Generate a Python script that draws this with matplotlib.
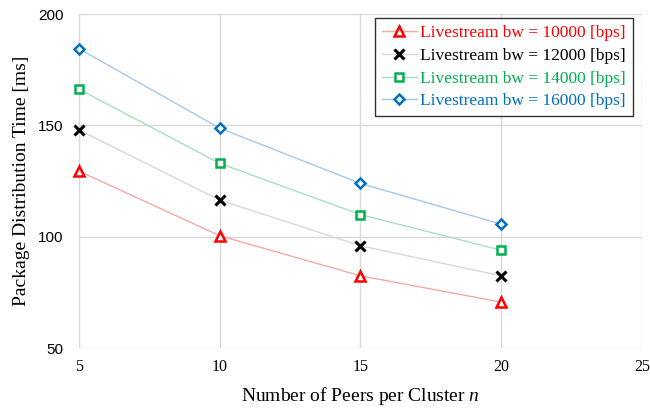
import matplotlib
matplotlib.use("Agg")
import matplotlib.pyplot as plt

plt.rcParams['font.family'] = ['Liberation Serif', 'DejaVu Serif']
plt.rcParams['mathtext.fontset'] = 'custom'
plt.rcParams['mathtext.rm'] = 'Liberation Serif'
plt.rcParams['mathtext.it'] = 'Liberation Serif:italic'

peers = [5, 10, 15, 20]
bw10000 = [129.5, 100.5, 82.5, 70.7]
bw12000 = [148, 116.5, 96, 82.5]
bw14000 = [166.3, 133, 110, 94]
bw16000 = [184.5, 148.8, 124, 105.7]
labels = ["Livestream bw = 10000 [bps]", "Livestream bw = 12000 [bps]",
          "Livestream bw = 14000 [bps]", "Livestream bw = 16000 [bps]"]

series = [bw10000, bw12000, bw14000, bw16000]
mcolors = ['#FF0000', '#000000', '#00B050', '#0070C0']
lcolors = ['#F7A8A8', '#D9D9D9', '#A9DFC0', '#A6C8E8']
markers = ['^', 'x', 's', 'D']
msizes = [6.5, 6.5, 6, 5.5]

fig = plt.figure(figsize=(6.5, 4.16), dpi=100)
ax = fig.add_axes([0.1215, 0.163, 0.866, 0.803])

handles = []
for ys, mc, lc, mk, ms, lab in zip(series, mcolors, lcolors, markers, msizes, labels):
    if mk == 'x':
        h, = ax.plot(peers, ys, color=lc, lw=1.0, marker=mk, ms=ms, mec=mc, mew=2.2,
                     label=lab, zorder=3, clip_on=False)
    else:
        h, = ax.plot(peers, ys, color=lc, lw=1.0, marker=mk, ms=ms, mfc='white', mec=mc,
                     mew=1.8, label=lab, zorder=3, clip_on=False)
    handles.append(h)

ax.set_xlim(5, 25)
ax.set_ylim(50, 200)
ax.set_xticks([5, 10, 15, 20, 25])
ax.set_yticks([50, 100, 150, 200])
ax.grid(True, color='#D9D9D9', lw=1.0)
ax.set_axisbelow(True)
for s in ax.spines.values():
    s.set_visible(False)
ax.tick_params(axis='x', length=0, labelsize=11.5, pad=8)
ax.tick_params(axis='y', length=0, labelsize=11, pad=11)
for t in ax.get_yticklabels():
    t.set_family(['Liberation Sans', 'DejaVu Sans'])

ax.set_xlabel("Number of Peers per Cluster $\\mathit{n}$", fontsize=14, labelpad=7)
ax.set_ylabel("Package Distribution Time [ms]", fontsize=14, labelpad=6)

leg = ax.legend(handles=handles, loc='upper right', bbox_to_anchor=(0.984, 0.988),
                fontsize=12.5, frameon=True, fancybox=False, edgecolor='black',
                handlelength=2.0, handletextpad=0.2, borderpad=0.4, labelspacing=0.38,
                borderaxespad=0.0)
leg.get_frame().set_linewidth(1.0)
for t, c in zip(leg.get_texts(), mcolors):
    t.set_color(c)

fig.savefig("out.png", dpi=100)
